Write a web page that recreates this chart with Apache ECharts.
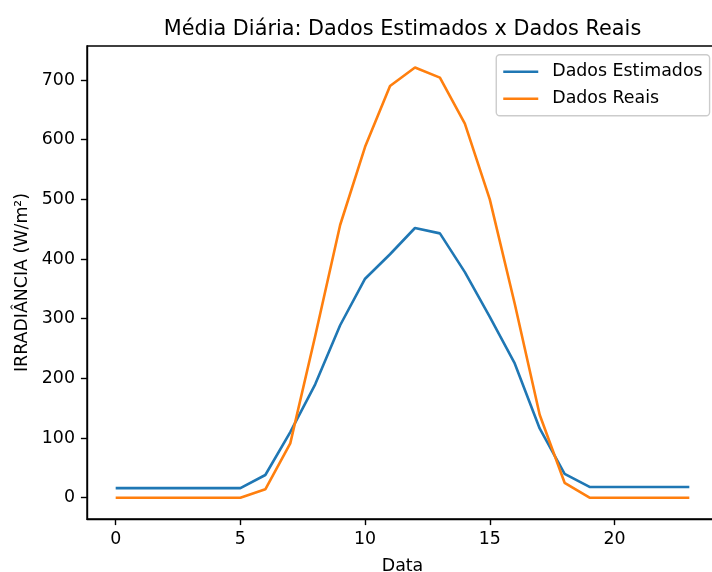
<!DOCTYPE html>
<html>
<head>
<meta charset="utf-8">
<script src="https://cdn.jsdelivr.net/npm/echarts@6/dist/echarts.min.js"></script>
<style>
html,body{margin:0;padding:0;background:#fff;}
#chart{width:712px;height:572px;}
</style>
</head>
<body>
<div id="chart"></div>
<script>
const hours = [0,1,2,3,4,5,6,7,8,9,10,11,12,13,14,15,16,17,18,19,20,21,22,23];
const estimados = [16,16,16,16,16,16,38,110,190,289,367,408,452,443,378,303,225,116,40,18,18,18,18,18];
const reais = [0,0,0,0,0,0,14,91,271,457,588,690,721,704,627,500,325,139,25,0,0,0,0,0];
const xTicks = [0,5,10,15,20];
const yTicks = [0,100,200,300,400,500,600,700];

const FONT = 'DejaVu Sans';
const chart = echarts.init(document.getElementById('chart'), null, {renderer:'canvas'});
const axisLineStyle = {color:'#000', width:1.4};
chart.setOption({
  animation:false,
  backgroundColor:'#fff',
  title:{
    text:'Média Diária: Dados Estimados x Dados Reais',
    left:397.5, top:14, textAlign:'center',
    textStyle:{fontFamily:FONT, fontSize:20.8, fontWeight:'normal', color:'#000'}
  },
  legend:{
    orient:'vertical', right:2.4, top:54.7,
    itemWidth:35, itemHeight:2.6, itemGap:7, icon:'rect',
    padding:[7,7,7,7],
    backgroundColor:'rgba(255,255,255,0.8)', borderColor:'#cccccc', borderWidth:1.4, borderRadius:3.5,
    textStyle:{fontFamily:FONT, fontSize:17.4, color:'#000', lineHeight:20, padding:[0,0,0,9]},
    data:['Dados Estimados','Dados Reais']
  },
  grid:{left:87, top:46, width:631, height:473, outerBoundsMode:'none', containLabel:false,
        show:true, borderColor:'#000', borderWidth:1.4, backgroundColor:'transparent'},
  xAxis:{
    type:'value', min:-1.15, max:24.15,
    name:'Data', nameLocation:'middle', nameGap:39,
    nameTextStyle:{fontFamily:FONT, fontSize:17.4, color:'#000'},
    axisLine:{show:true, onZero:false, lineStyle:axisLineStyle},
    axisTick:{show:true, length:6.1, lineStyle:axisLineStyle, customValues:xTicks},
    axisLabel:{show:true, margin:12, fontFamily:FONT, fontSize:17.4, color:'#000', customValues:xTicks},
    splitLine:{show:false}
  },
  yAxis:{
    type:'value', min:-35.7, max:757,
    name:'IRRADIÂNCIA (W/m²)', nameLocation:'middle', nameGap:56,
    nameTextStyle:{fontFamily:FONT, fontSize:17.4, color:'#000'},
    axisLine:{show:true, onZero:false, lineStyle:axisLineStyle},
    axisTick:{show:true, length:6.1, lineStyle:axisLineStyle, customValues:yTicks},
    axisLabel:{show:true, margin:12, fontFamily:FONT, fontSize:17.4, color:'#000', customValues:yTicks},
    splitLine:{show:false}
  },
  series:[
    {name:'Dados Estimados', type:'line', showSymbol:false, symbol:'none',
     data:hours.map((h,i)=>[h,estimados[i]]),
     color:'#1f77b4', lineStyle:{color:'#1f77b4', width:2.6}},
    {name:'Dados Reais', type:'line', showSymbol:false, symbol:'none',
     data:hours.map((h,i)=>[h,reais[i]]),
     color:'#ff7f0e', lineStyle:{color:'#ff7f0e', width:2.6}}
  ]
});
</script>
</body>
</html>
